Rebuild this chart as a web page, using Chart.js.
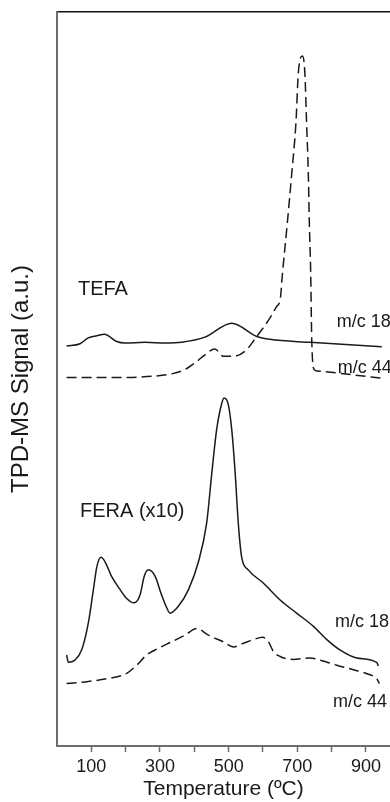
<!DOCTYPE html>
<html>
<head>
<meta charset="utf-8">
<script src="https://cdn.jsdelivr.net/npm/chart.js@4.4.1/dist/chart.umd.min.js"></script>
<style>
  html, body { margin: 0; padding: 0; background: #fff; }
  #wrap { width: 390px; height: 802px; position: relative; }
</style>
</head>
<body>
<div id="wrap"><canvas id="myChart"></canvas></div>
<script>
// TEFA, m/c 18 (solid)
const tefa18T = [28, 67, 91, 116, 138, 174, 198, 256, 315, 363, 431, 509, 582, 620, 737, 946];
const tefa18S = [54.5, 54.8, 55.6, 55.9, 56.1, 55.1, 54.9, 55.0, 54.9, 55.0, 55.7, 57.6, 55.8, 55.4, 55.0, 54.4];

// TEFA, m/c 44 (dashed)
const tefa44T = [28, 188, 286, 334, 373, 402, 431, 460, 484, 514, 548, 582, 620, 640, 650, 657, 671, 684, 696, 703, 715, 722, 727, 732, 735, 739, 742, 749, 757, 855, 946];
const tefa44S = [50.2, 50.2, 50.4, 50.7, 51.3, 52.2, 53.3, 54.1, 53.1, 53.1, 53.8, 55.8, 58.3, 59.9, 60.8, 64.5, 71.3, 78.1, 84.9, 91.7, 94.0, 91.7, 84.9, 78.1, 71.3, 64.5, 55.4, 51.3, 51.1, 50.6, 50.1];

// FERA (x10), m/c 18 (solid)
const fera18T = [28, 33, 52, 72, 91, 106, 116, 128, 140, 159, 184, 203, 225, 242, 254, 266, 286, 303, 320, 329, 353, 383, 412, 436, 451, 465, 480, 487, 499, 509, 519, 528, 538, 557, 601, 650, 698, 747, 786, 824, 873, 931, 936];
const fera18S = [12.4, 11.4, 11.7, 13.1, 16.7, 21.3, 24.4, 25.7, 25.1, 23.1, 21.3, 20.1, 19.5, 20.6, 23.1, 24.0, 23.1, 20.8, 18.8, 18.1, 19.0, 21.3, 25.1, 30.4, 37.2, 43.1, 46.7, 47.4, 46.5, 43.1, 37.2, 30.4, 25.7, 24.0, 22.2, 19.9, 18.1, 16.3, 14.5, 13.1, 12.0, 11.4, 10.9];

// FERA (x10), m/c 44 (dashed)
const fera44T = [28, 91, 149, 203, 232, 261, 295, 334, 373, 407, 441, 484, 514, 543, 572, 599, 616, 630, 650, 688, 737, 766, 815, 863, 912, 931, 939];
const fera44S = [8.5, 8.8, 9.2, 9.9, 11.0, 12.4, 13.3, 14.2, 15.1, 16.0, 15.1, 14.2, 13.5, 14.0, 14.5, 14.8, 14.2, 12.9, 12.2, 11.8, 12.0, 11.7, 11.0, 10.4, 9.7, 9.2, 8.5];

const xTicks = [100, 300, 500, 700, 900];

function toPoints(t, s) {
    return t.map((v, i) => ({ x: v, y: s[i] }));
}

const labels = [
    { text: 'TEFA', x: 61, y: 62.2, size: 20 },
    { text: 'FERA (x10)', x: 67, y: 31.9, size: 20 },
    { text: 'm/c 18', x: 815, y: 57.8, size: 18 },
    { text: 'm/c 44', x: 818, y: 51.5, size: 18 },
    { text: 'm/c 18', x: 810, y: 16.9, size: 18 },
    { text: 'm/c 44', x: 804, y: 6.0, size: 18 }
];

const textLabels = {
    id: 'textLabels',
    afterDraw(chart) {
        const ctx = chart.ctx;
        const xs = chart.scales.x, ys = chart.scales.y;
        ctx.save();
        ctx.fillStyle = '#1a1a1a';
        ctx.textAlign = 'left';
        ctx.textBaseline = 'middle';
        labels.forEach(l => {
            ctx.font = l.size + 'px "Liberation Sans", Arial, sans-serif';
            ctx.fillText(l.text, xs.getPixelForValue(l.x), ys.getPixelForValue(l.y));
        });
        ctx.restore();
    }
};

const lineColor = '#1a1a1a';
const axisGray = '#6e6e6e';
const font = '"Liberation Sans", Arial, sans-serif';

const ctx = document.getElementById('myChart');
const myChart = new Chart(ctx, {
    type: 'line',
    data: {
        datasets: [
            { label: 'TEFA m/c 18', data: toPoints(tefa18T, tefa18S) },
            { label: 'TEFA m/c 44', data: toPoints(tefa44T, tefa44S), borderDash: [10, 5] },
            { label: 'FERA m/c 18', data: toPoints(fera18T, fera18S) },
            { label: 'FERA m/c 44', data: toPoints(fera44T, fera44S), borderDash: [10, 5] }
        ]
    },
    options: {
        responsive: true,
        maintainAspectRatio: false,
        animation: false,
        layout: { padding: { left: 0, right: 0, top: 12, bottom: 0 } },
        elements: {
            line: { borderColor: lineColor, borderWidth: 1.5, cubicInterpolationMode: 'monotone', fill: false },
            point: { radius: 0 }
        },
        plugins: {
            legend: { display: false },
            tooltip: { enabled: false }
        },
        scales: {
            x: {
                type: 'linear',
                position: 'bottom',
                min: 0,
                max: 970,
                afterFit: (scale) => { scale.height = 56; },
                border: { color: axisGray, width: 2 },
                grid: {
                    display: true,
                    drawOnChartArea: false,
                    tickLength: 6,
                    tickWidth: 1.5,
                    tickColor: (c) => (c.tick && c.tick.value === 0) ? 'rgba(0,0,0,0)' : axisGray
                },
                ticks: {
                    stepSize: 100,
                    includeBounds: false,
                    maxRotation: 0,
                    autoSkip: false,
                    padding: 4,
                    color: '#1a1a1a',
                    font: { family: font, size: 18 },
                    callback: (v) => xTicks.includes(v) ? String(v) : ''
                },
                title: {
                    display: true,
                    text: 'Temperature (ºC)',
                    color: '#1a1a1a',
                    font: { family: font, size: 21 },
                    padding: { top: 0, bottom: 0 }
                }
            },
            x2: {
                type: 'linear',
                position: 'top',
                afterFit: (scale) => { scale.height = 0; },
                border: { color: '#111', width: 1.5 },
                grid: { display: false },
                ticks: { display: false }
            },
            y: {
                type: 'linear',
                min: 0,
                max: 100,
                afterFit: (scale) => { scale.width = 57; },
                border: { color: axisGray, width: 2 },
                grid: { display: false },
                ticks: { display: false },
                title: {
                    display: true,
                    text: 'TPD-MS Signal (a.u.)',
                    color: '#1a1a1a',
                    font: { family: font, size: 24 },
                    padding: { top: 7, bottom: 0 }
                }
            }
        }
    },
    plugins: [textLabels]
});
</script>
</body>
</html>
